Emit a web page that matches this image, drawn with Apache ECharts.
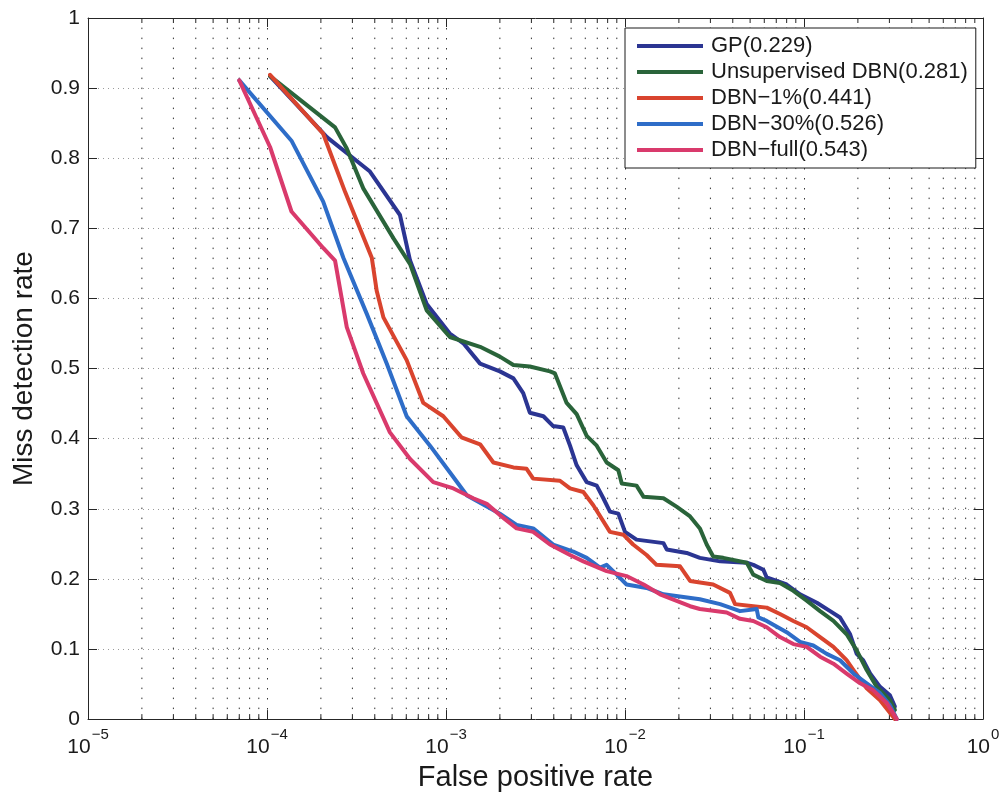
<!DOCTYPE html>
<html>
<head>
<meta charset="utf-8">
<script src="https://cdn.jsdelivr.net/npm/echarts@6/dist/echarts.min.js"></script>
<style>
html,body{margin:0;padding:0;background:#fff;}
#chart{width:1005px;height:797px;}
</style>
</head>
<body>
<div id="chart"></div>
<script>
// ---- Data (false positive rate, miss detection rate) ----
const seriesNames = ['GP(0.229)', 'Unsupervised DBN(0.281)', 'DBN\u22121%(0.441)', 'DBN\u221230%(0.526)', 'DBN\u2212full(0.543)'];

const gpFPR = [1.04e-4,2.16e-4,3.76e-4,5.53e-4,6.30e-4,7.80e-4,1.05e-3,1.25e-3,1.55e-3,2.00e-3,2.38e-3,2.70e-3,2.94e-3,3.50e-3,3.97e-3,4.52e-3,4.93e-3,5.37e-3,6.11e-3,6.95e-3,7.57e-3,8.24e-3,9.18e-3,1.00e-2,1.16e-2,1.64e-2,1.71e-2,2.21e-2,2.62e-2,3.40e-2,4.79e-2,5.21e-2,5.93e-2,6.19e-2,8.00e-2,9.50e-2,0.118,0.140,0.159,0.181,0.197,0.214,0.234,0.266,0.302,0.322];
const gpMDR = [0.917,0.830,0.781,0.719,0.654,0.592,0.550,0.536,0.507,0.496,0.486,0.465,0.437,0.432,0.418,0.416,0.390,0.362,0.338,0.333,0.315,0.296,0.293,0.267,0.256,0.251,0.242,0.237,0.230,0.225,0.223,0.220,0.213,0.202,0.192,0.178,0.166,0.154,0.145,0.121,0.093,0.084,0.065,0.046,0.034,0.018];

const udbnFPR = [1.04e-4,2.40e-4,2.79e-4,3.45e-4,5.08e-4,6.30e-4,7.80e-4,1.05e-3,1.55e-3,2.00e-3,2.38e-3,2.94e-3,3.81e-3,4.06e-3,4.72e-3,5.37e-3,6.11e-3,6.95e-3,7.90e-3,9.18e-3,9.59e-3,1.16e-2,1.27e-2,1.64e-2,1.94e-2,2.31e-2,2.62e-2,2.86e-2,3.11e-2,3.54e-2,4.79e-2,5.21e-2,6.19e-2,7.34e-2,8.72e-2,0.1035,0.123,0.146,0.173,0.197,0.224,0.255,0.302,0.322];
const udbnMDR = [0.917,0.844,0.814,0.757,0.686,0.649,0.583,0.545,0.531,0.517,0.505,0.503,0.496,0.493,0.451,0.435,0.404,0.390,0.366,0.355,0.336,0.333,0.317,0.315,0.303,0.289,0.272,0.249,0.232,0.230,0.223,0.206,0.197,0.194,0.183,0.169,0.154,0.140,0.121,0.098,0.070,0.046,0.027,0.013];

const dbn1FPR = [1.04e-4,2.06e-4,2.73e-4,3.85e-4,4.10e-4,4.47e-4,6.03e-4,7.47e-4,9.66e-4,1.22e-3,1.55e-3,1.84e-3,2.38e-3,2.82e-3,3.07e-3,4.33e-3,4.93e-3,5.85e-3,6.65e-3,8.24e-3,9.79e-3,1.11e-2,1.32e-2,1.50e-2,2.03e-2,2.31e-2,3.11e-2,3.86e-2,4.12e-2,5.21e-2,6.19e-2,7.34e-2,8.72e-2,0.1035,0.123,0.146,0.173,0.189,0.224,0.266,0.322];
const dbn1MDR = [0.919,0.835,0.752,0.658,0.611,0.573,0.512,0.451,0.432,0.402,0.392,0.366,0.359,0.357,0.343,0.340,0.329,0.324,0.305,0.267,0.263,0.249,0.234,0.220,0.218,0.197,0.192,0.180,0.164,0.161,0.159,0.150,0.140,0.131,0.117,0.103,0.084,0.070,0.044,0.027,0.000];

const dbn30FPR = [7.0e-5,1.37e-4,2.06e-4,2.67e-4,3.61e-4,4.67e-4,6.03e-4,8.14e-4,1.05e-3,1.31e-3,2.00e-3,2.48e-3,3.07e-3,3.97e-3,5.14e-3,6.11e-3,7.25e-3,7.90e-3,8.99e-3,1.02e-2,1.32e-2,1.64e-2,2.62e-2,3.40e-2,4.39e-2,5.44e-2,5.56e-2,6.19e-2,8.00e-2,9.50e-2,0.1127,0.134,0.159,0.189,0.224,0.266,0.302,0.330];
const dbn30MDR = [0.911,0.825,0.738,0.658,0.578,0.507,0.432,0.390,0.352,0.319,0.293,0.277,0.272,0.249,0.239,0.230,0.216,0.220,0.206,0.192,0.187,0.178,0.171,0.164,0.154,0.157,0.145,0.140,0.124,0.110,0.105,0.093,0.084,0.065,0.051,0.037,0.020,0.000];

const dbnFullFPR = [7.0e-5,1.04e-4,1.37e-4,2.06e-4,2.40e-4,2.79e-4,3.45e-4,4.86e-4,6.30e-4,8.49e-4,1.10e-3,1.42e-3,1.69e-3,2.00e-3,2.48e-3,3.07e-3,3.81e-3,4.93e-3,5.85e-3,7.90e-3,1.02e-2,1.27e-2,1.57e-2,2.31e-2,2.62e-2,3.70e-2,4.39e-2,5.21e-2,6.19e-2,7.34e-2,8.72e-2,0.1035,0.123,0.146,0.173,0.206,0.244,0.290,0.330];
const dbnFullMDR = [0.911,0.816,0.724,0.672,0.654,0.559,0.493,0.409,0.371,0.338,0.329,0.315,0.307,0.291,0.272,0.267,0.249,0.234,0.225,0.211,0.204,0.192,0.178,0.161,0.157,0.152,0.143,0.140,0.131,0.117,0.107,0.103,0.089,0.079,0.065,0.051,0.041,0.023,0.000];

const yTickLabels = ['0','0.1','0.2','0.3','0.4','0.5','0.6','0.7','0.8','0.9','1'];
const xDecades = [-5,-4,-3,-2,-1,0];

const colors = ['#2b3592', '#2a643a', '#d9442e', '#2e6dc8', '#d93a6c'];

// minor log tick positions (2..9 x 10^k)
const minorTicks = [];
for (let k = -5; k < 0; k++) for (let m = 2; m <= 9; m++) minorTicks.push([m * Math.pow(10, k), 0]);

function zip(a, b) { return a.map((v, i) => [v, b[i]]); }
const seriesData = [zip(gpFPR, gpMDR), zip(udbnFPR, udbnMDR), zip(dbn1FPR, dbn1MDR), zip(dbn30FPR, dbn30MDR), zip(dbnFullFPR, dbnFullMDR)];

const FONT = '"Liberation Sans", Arial, Helvetica, sans-serif';
const AX = '#262626';

const chart = echarts.init(document.getElementById('chart'), null, {renderer: 'canvas'});

const xCommon = {
  type: 'log', logBase: 10, min: 1e-5, max: 1, splitNumber: 5,
  axisLine: {show: true, onZero: false, lineStyle: {color: AX, width: 1}},
  axisTick: {show: true, inside: true, length: 9, lineStyle: {color: AX}},
  minorTick: {show: false}
};
const yCommon = {
  type: 'value', min: 0, max: 1, interval: 0.1,
  axisLine: {show: true, onZero: false, lineStyle: {color: AX, width: 1}},
  axisTick: {show: true, inside: true, length: 9, lineStyle: {color: AX}}
};

const option = {
  backgroundColor: '#fff',
  animation: false,
  grid: {left: 88, right: 22, top: 18, bottom: 71, containLabel: false},
  legend: {
    data: seriesNames,
    orient: 'vertical',
    left: 625, top: 28,
    icon: 'rect', itemWidth: 66, itemHeight: 4, itemGap: 4,
    padding: [7, 8, 7, 12],
    backgroundColor: '#fff', borderColor: '#1a1a1a', borderWidth: 1,
    textStyle: {fontFamily: FONT, fontSize: 22, color: '#1a1a1a', lineHeight: 22, padding: [0, 0, 0, 3]}
  },
  xAxis: [
    Object.assign({}, xCommon, {
      position: 'bottom',
      name: 'False positive rate', nameLocation: 'middle', nameGap: 41,
      nameTextStyle: {fontFamily: FONT, fontSize: 29, color: '#1a1a1a'},
      splitLine: {show: true, lineStyle: {color: '#333', width: 1, type: [1.5, 8.5]}},
      axisLabel: {
        margin: 8, color: '#1a1a1a',
        formatter: function (v) {
          const e = Math.round(Math.log10(v));
          return '{b|10}{s|' + (e < 0 ? '\u2212' + (-e) : String(e)) + '}';
        },
        rich: {
          b: {fontFamily: FONT, fontSize: 21, color: '#1a1a1a', verticalAlign: 'bottom', lineHeight: 31},
          s: {fontFamily: FONT, fontSize: 15, color: '#1a1a1a', verticalAlign: 'top', lineHeight: 31, padding: [0,0,0,1]}
        }
      }
    }),
    Object.assign({}, xCommon, {
      position: 'top',
      axisLabel: {show: false}, splitLine: {show: false}
    })
  ],
  yAxis: [
    Object.assign({}, yCommon, {
      position: 'left',
      name: 'Miss detection rate', nameLocation: 'middle', nameGap: 50,
      nameTextStyle: {fontFamily: FONT, fontSize: 28, color: '#1a1a1a'},
      splitLine: {show: true, lineStyle: {color: '#9a9a9a', width: 1, type: [1, 4]}},
      axisLabel: {
        margin: 8, fontFamily: FONT, fontSize: 21, color: '#1a1a1a',
        formatter: function (v) { return yTickLabels[Math.round(v * 10)]; }
      }
    }),
    Object.assign({}, yCommon, {
      position: 'right',
      axisLabel: {show: false}, splitLine: {show: false}
    })
  ],
  series: [
    {
      type: 'custom', name: 'minorGrid', silent: true, z: 1,
      xAxisIndex: 0, yAxisIndex: 0,
      data: minorTicks,
      renderItem: function (params, api) {
        const v = api.value(0);
        const b = api.coord([v, 0]);
        const t = api.coord([v, 1]);
        return {
          type: 'group',
          children: [
            {type: 'line', shape: {x1: b[0], y1: b[1], x2: t[0], y2: t[1]}, style: {stroke: '#333', lineWidth: 1, lineDash: [1.5, 8.5]}},
            {type: 'line', shape: {x1: b[0], y1: b[1], x2: b[0], y2: b[1] - 5}, style: {stroke: AX, lineWidth: 1}},
            {type: 'line', shape: {x1: t[0], y1: t[1], x2: t[0], y2: t[1] + 5}, style: {stroke: AX, lineWidth: 1}}
          ]
        };
      }
    }
  ].concat(seriesNames.map(function (name, i) {
    return {
      type: 'line', name: name, data: seriesData[i],
      xAxisIndex: 0, yAxisIndex: 0,
      showSymbol: false, symbol: 'none', z: 3 + i,
      color: colors[i],
      lineStyle: {color: colors[i], width: 4, cap: 'round', join: 'round'},
      itemStyle: {color: colors[i]}
    };
  }))
};
chart.setOption(option);
</script>
</body>
</html>
